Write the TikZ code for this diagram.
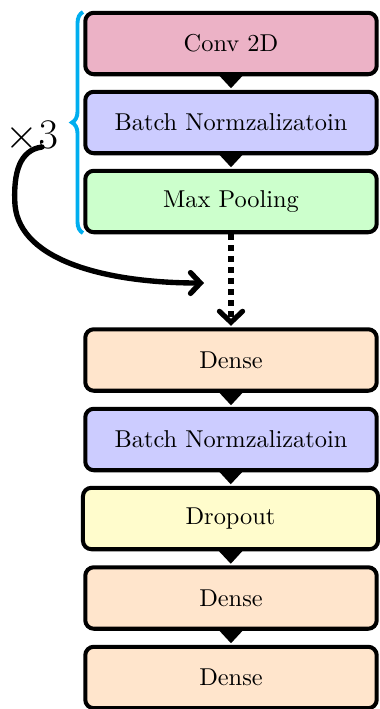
\documentclass[tikz,border=0pt]{standalone}
\usetikzlibrary{arrows.meta,decorations.pathreplacing}
\definecolor{bracecol}{RGB}{0,174,239}
\tikzset{
  layer/.style={draw=black, line width=1.65pt, rounded corners=3.5pt,
    minimum width=119.5pt, minimum height=25.2pt, inner sep=0pt, font=\normalsize},
  flow/.style={line width=1.4pt, shorten >=0.6pt, -{Triangle[width=10pt,length=5.6pt]}},
}
\begin{document}
\begin{tikzpicture}[x=0.41pt,y=-0.41pt]
\useasboundingbox (0,0) rectangle (380,709);
% convolutional block
\node[layer, fill=purple!30] (conv)  at (231,43.5)  {Conv 2D};
\node[layer, fill=blue!20]   (bn1)   at (231,122.5) {Batch Normzalizatoin};
\node[layer, fill=green!20]  (pool)  at (231,201.5) {Max Pooling};
% dense head
\node[layer, fill=orange!20] (d1)    at (231,360)   {Dense};
\node[layer, fill=blue!20]   (bn2)   at (231,439.5) {Batch Normzalizatoin};
\node[layer, fill=yellow!20, minimum width=121pt] (drop) at (230.5,518.5) {Dropout};
\node[layer, fill=orange!20] (d2)    at (231,598)   {Dense};
\node[layer, fill=orange!20] (d3)    at (231,677.5) {Dense};

\draw[flow] (conv) -- (bn1);
\draw[flow] (bn1) -- (pool);
\draw[flow] (d1) -- (bn2);
\draw[flow] (bn2) -- (drop);
\draw[flow] (drop) -- (d2);
\draw[flow] (d2) -- (d3);

% link from the block to the head
\draw[line width=2.1pt, dash pattern=on 2.3pt off 2.2pt, shorten >=0.6pt,
  -{Straight Barb[length=4.5pt,width=9.5pt,line cap=round]}] (pool) -- (d1);

% repetition brace
\draw[bracecol, line width=1.6pt, decorate, decoration={brace, amplitude=4.5pt}]
  (83,233) -- (83,12);
\node[font=\LARGE, inner sep=0pt] (rep) at (32,137) {$\times3$};
\coordinate (loopstart) at (42,147);
\coordinate (loopend) at (204,283);
\draw[line width=2.2pt, line cap=round,
  -{Straight Barb[length=4pt,width=8.5pt,line cap=round]}]
  (loopstart) .. controls (20,150) and (13,172) .. (15,205)
  .. controls (20,262) and (110,283) .. (loopend);
\end{tikzpicture}
\end{document}
